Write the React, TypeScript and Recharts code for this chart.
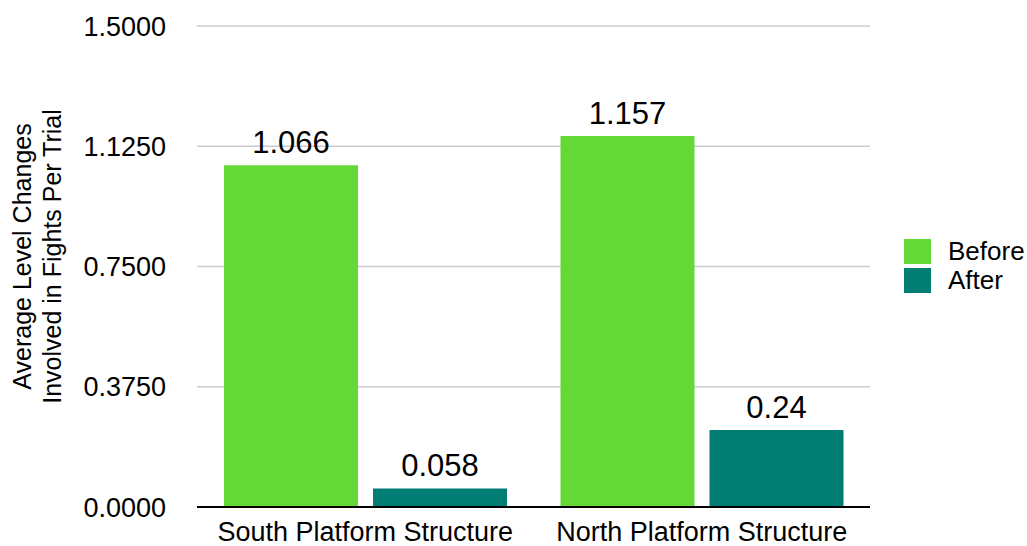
import { BarChart, Bar, XAxis, YAxis, CartesianGrid, Legend, LabelList } from 'recharts';

const categories = ["South Platform Structure", "North Platform Structure"];
const beforeValues = [1.066, 1.157];
const afterValues = [0.058, 0.24];
const yTicks = [0, 0.375, 0.75, 1.125, 1.5];

const FONT = '"Liberation Sans", Arial, Helvetica, sans-serif';
const GREEN = "#63d837";
const TEAL = "#017d74";

const data = categories.map((name, i) => ({ name, before: beforeValues[i], after: afterValues[i] }));

function YLabel(props: any) {
  const vb = props.viewBox || {};
  const cy = vb.y + vb.height / 2 - 10;
  const cx = 37;
  return (
    <text transform={`translate(${cx},${cy}) rotate(-90)`} textAnchor="middle" fontSize={25} fill="#000" fontFamily={FONT}>
      <tspan x={0} dy={-6}>Average Level Changes</tspan>
      <tspan x={0} dy={30}>Involved in Fights Per Trial</tspan>
    </text>
  );
}

function LegendBox() {
  const items = [
    { label: "Before", color: GREEN },
    { label: "After", color: TEAL },
  ];
  return (
    <div style={{ fontFamily: FONT, fontSize: 26, color: "#000" }}>
      {items.map((it) => (
        <div key={it.label} style={{ display: "flex", alignItems: "center", height: 29 }}>
          <div style={{ width: 27, height: 25, background: it.color, marginRight: 17 }} />
          <span style={{ lineHeight: "29px" }}>{it.label}</span>
        </div>
      ))}
    </div>
  );
}

export default function App() {
  return (
    <div style={{ position: "fixed", left: 0, top: 0, width: 1027, height: 546, background: "#fff" }}>
      <BarChart
        width={1027}
        height={546}
        data={data}
        margin={{ top: 26, right: 34, bottom: 9, left: 0 }}
        barCategoryGap={27}
        barGap={15}
      >
        <CartesianGrid vertical={false} stroke="#cccccc" strokeWidth={1.5} />
        <XAxis
          dataKey="name"
          height={30}
          axisLine={{ stroke: "#000", strokeWidth: 2 }}
          tickLine={false}
          tickMargin={9}
          tick={{ fill: "#000", fontSize: 27, fontFamily: FONT }}
        />
        <YAxis
          width={197}
          domain={[0, 1.5]}
          ticks={yTicks}
          axisLine={false}
          tickLine={false}
          tickMargin={25}
          tickFormatter={(v: number) => v.toFixed(4)}
          tick={{ fill: "#000", fontSize: 27, fontFamily: FONT }}
          label={<YLabel />}
        />
        <Legend
          layout="vertical"
          align="right"
          verticalAlign="middle"
          content={<LegendBox />}
          wrapperStyle={{ left: 904, top: 237, width: 123 }}
        />
        <Bar dataKey="before" name="Before" fill={GREEN} isAnimationActive={false}>
          <LabelList dataKey="before" position="top" offset={12} fill="#000" fontSize={31} fontFamily={FONT} />
        </Bar>
        <Bar dataKey="after" name="After" fill={TEAL} isAnimationActive={false}>
          <LabelList dataKey="after" position="top" offset={12} fill="#000" fontSize={31} fontFamily={FONT} />
        </Bar>
      </BarChart>
    </div>
  );
}
